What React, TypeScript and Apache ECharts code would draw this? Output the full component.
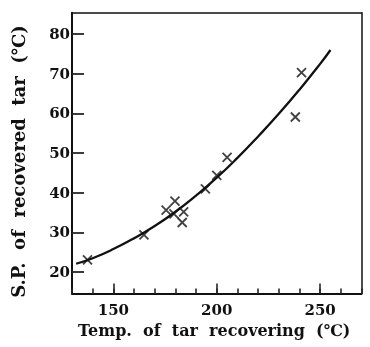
import React, { useEffect, useRef } from "react";
import * as echarts from "echarts";

const curveX = [132, 140, 150, 160, 170, 180, 190, 200, 210, 220, 230, 240, 250, 255];
const curveY = [22.1, 23.5, 25.8, 28.5, 31.6, 35.2, 39.3, 43.8, 48.8, 54.2, 59.9, 66.0, 72.5, 76.0];
const pointX = [137.5, 164.8, 175.5, 179.8, 179.3, 184, 183.3, 194.5, 200, 205, 238, 241];
const pointY = [23.1, 29.4, 35.6, 37.9, 34.7, 35.2, 32.5, 41, 44.4, 48.9, 59.1, 70.3];
const xLabelValues = [150, 200, 250];
const yTickValues = [20, 30, 40, 50, 60, 70, 80];
const xTitle = "Temp.  of  tar  recovering  (℃)";
const yTitle = "S.P.  of  recovered  tar  (℃)";

const FONT = "'DejaVu Serif', 'Liberation Serif', serif";
const X_MIN = 130;
const X_MAX = 270;
const Y_MIN = 14.6;
const Y_MAX = 85.4;
const INK = "#111";
const TICK = "#262626";

export default function App() {
  const ref = useRef<HTMLDivElement>(null);
  useEffect(() => {
    const chart = echarts.init(ref.current!, null, { renderer: "svg" });
    const frameAxis = {
      type: "value",
      axisLine: { show: true, lineStyle: { color: INK, width: 1.5 } },
      axisTick: { show: false },
      axisLabel: { show: false },
      splitLine: { show: false },
    };
    chart.setOption({
      animation: false,
      grid: { left: 72, right: 8.5, top: 12.7, bottom: 53.5 },
      xAxis: [
        {
          type: "value",
          min: X_MIN,
          max: X_MAX,
          interval: 10,
          axisLine: { show: true, lineStyle: { color: INK, width: 2 } },
          axisTick: {
            show: true,
            inside: true,
            length: 5,
            lineStyle: { color: TICK, width: 1.6 },
          },
          axisLabel: {
            customValues: xLabelValues,
            margin: 9,
            color: INK,
            fontFamily: FONT,
            fontWeight: "bold",
            fontSize: 15,
          },
          splitLine: { show: false },
        },
        {
          type: "value",
          min: X_MIN,
          max: X_MAX,
          position: "bottom",
          axisLine: { show: false },
          axisTick: {
            show: true,
            inside: true,
            length: 10,
            customValues: xLabelValues,
            lineStyle: { color: TICK, width: 1.6 },
          },
          axisLabel: { show: false },
          splitLine: { show: false },
        },
        { ...frameAxis, min: X_MIN, max: X_MAX, position: "top" },
      ],
      yAxis: [
        {
          type: "value",
          min: Y_MIN,
          max: Y_MAX,
          axisLine: { show: true, lineStyle: { color: INK, width: 2 } },
          axisTick: {
            show: true,
            inside: true,
            length: 12,
            customValues: yTickValues,
            lineStyle: { color: TICK, width: 1.8 },
          },
          axisLabel: {
            customValues: yTickValues,
            margin: 2,
            color: INK,
            fontFamily: FONT,
            fontWeight: "bold",
            fontSize: 15,
          },
          splitLine: { show: false },
        },
        { ...frameAxis, min: Y_MIN, max: Y_MAX, position: "right" },
      ],
      series: [
        {
          type: "line",
          smooth: true,
          showSymbol: false,
          data: curveX.map((x, i) => [x, curveY[i]]),
          lineStyle: { color: INK, width: 2.3 },
          z: 2,
        },
        {
          type: "scatter",
          symbol: "path://M0,0L10,10M10,0L0,10",
          symbolSize: 9,
          data: pointX.map((x, i) => [x, pointY[i]]),
          itemStyle: { color: "none", borderColor: INK, borderWidth: 1.8 },
          z: 3,
        },
      ],
      graphic: [
        {
          type: "text",
          left: 78,
          top: 322,
          style: { text: xTitle, fill: INK, font: `bold 16px ${FONT}` },
        },
        {
          type: "text",
          x: 18,
          y: 161.5,
          rotation: Math.PI / 2,
          style: {
            text: yTitle,
            fill: INK,
            font: `bold 18px ${FONT}`,
            align: "center",
            verticalAlign: "middle",
          },
        },
      ],
    });
    return () => chart.dispose();
  }, []);
  return (
    <div
      ref={ref}
      style={{ position: "fixed", left: 0, top: 0, width: 370, height: 347 }}
    />
  );
}
